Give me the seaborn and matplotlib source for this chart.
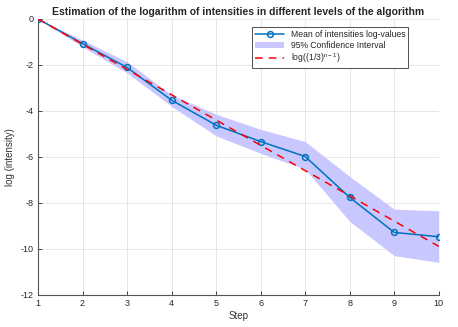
import numpy as np
import pandas as pd
import matplotlib
matplotlib.use("Agg")
import matplotlib.pyplot as plt
import seaborn as sns

steps = [1, 2, 3, 4, 5, 6, 7, 8, 9, 10]
mean_log = [0.0, -1.07, -2.11, -3.53, -4.62, -5.33, -5.98, -7.76, -9.28, -9.47]
ci_upper = [0.0, -0.92, -1.86, -3.30, -4.14, -4.80, -5.33, -6.85, -8.27, -8.34]
ci_lower = [0.0, -1.21, -2.34, -3.80, -5.08, -5.84, -6.53, -8.80, -10.29, -10.58]
theory = [-np.log(3) * (n - 1) for n in steps]

df = pd.DataFrame({"Step": steps, "mean": mean_log, "theory": theory})

sns.set_style("whitegrid")
plt.rcParams['font.family'] = ['Liberation Sans', 'DejaVu Sans']

fig = plt.figure(figsize=(4.58, 3.27), dpi=100)
ax = fig.add_axes([0.083, 0.098, 0.875, 0.844])

ax.fill_between(steps, ci_lower, ci_upper, color='#c8c8ff', lw=0,
                label='95% Confidence Interval', zorder=1)
sns.lineplot(data=df, x="Step", y="mean", ax=ax, color='#0072BD', lw=1.1,
             marker='o', markersize=4.2, markerfacecolor='none',
             markeredgecolor='#0072BD', markeredgewidth=1.1,
             label='Mean of intensities log-values', zorder=3)
sns.lineplot(data=df, x="Step", y="theory", ax=ax, color='red', lw=1.1,
             label=r'log((1/3)$^{\mathregular{n-1}}$)', zorder=4)
ax.lines[-1].set_linestyle((0, (5, 4)))

# legend order as in reference
h, l = ax.get_legend_handles_labels()
order = [l.index('Mean of intensities log-values'),
         l.index('95% Confidence Interval'),
         l.index(r'log((1/3)$^{\mathregular{n-1}}$)')]
leg = ax.legend([h[i] for i in order], [l[i] for i in order], loc='upper right',
                bbox_to_anchor=(0.935, 0.985), fontsize=6.2, frameon=True,
                fancybox=False, edgecolor='#333333', framealpha=1,
                borderpad=0.3, labelspacing=0.2, handlelength=3.4)
leg.get_frame().set_linewidth(0.6)

ax.set_xlim(1, 10)
ax.set_ylim(-12, 0)
ax.set_xticks(range(1, 11))
ax.set_yticks([-12, -10, -8, -6, -4, -2, 0])
ax.set_yticklabels(['-12', '-10', '-8', '-6', '-4', '-2', '0'])
ax.grid(True, color='#e6e6e6', lw=0.7)
ax.tick_params(axis='both', labelsize=6.5, colors='#262626', direction='in',
               length=3, width=0.6, left=True, bottom=True, pad=3)
for s in ['top', 'right']:
    ax.spines[s].set_visible(False)
for s in ['left', 'bottom']:
    ax.spines[s].set_color('#555555')
    ax.spines[s].set_linewidth(0.8)

ax.set_title('Estimation of the logarithm of intensities in different levels of the algorithm',
             fontsize=7.5, fontweight='bold', pad=3)
ax.set_xlabel('Step', fontsize=7, color='#333333', labelpad=2)
ax.set_ylabel('log (intensity)', fontsize=7, color='#333333', labelpad=4)

fig.savefig('out.png', dpi=100)
